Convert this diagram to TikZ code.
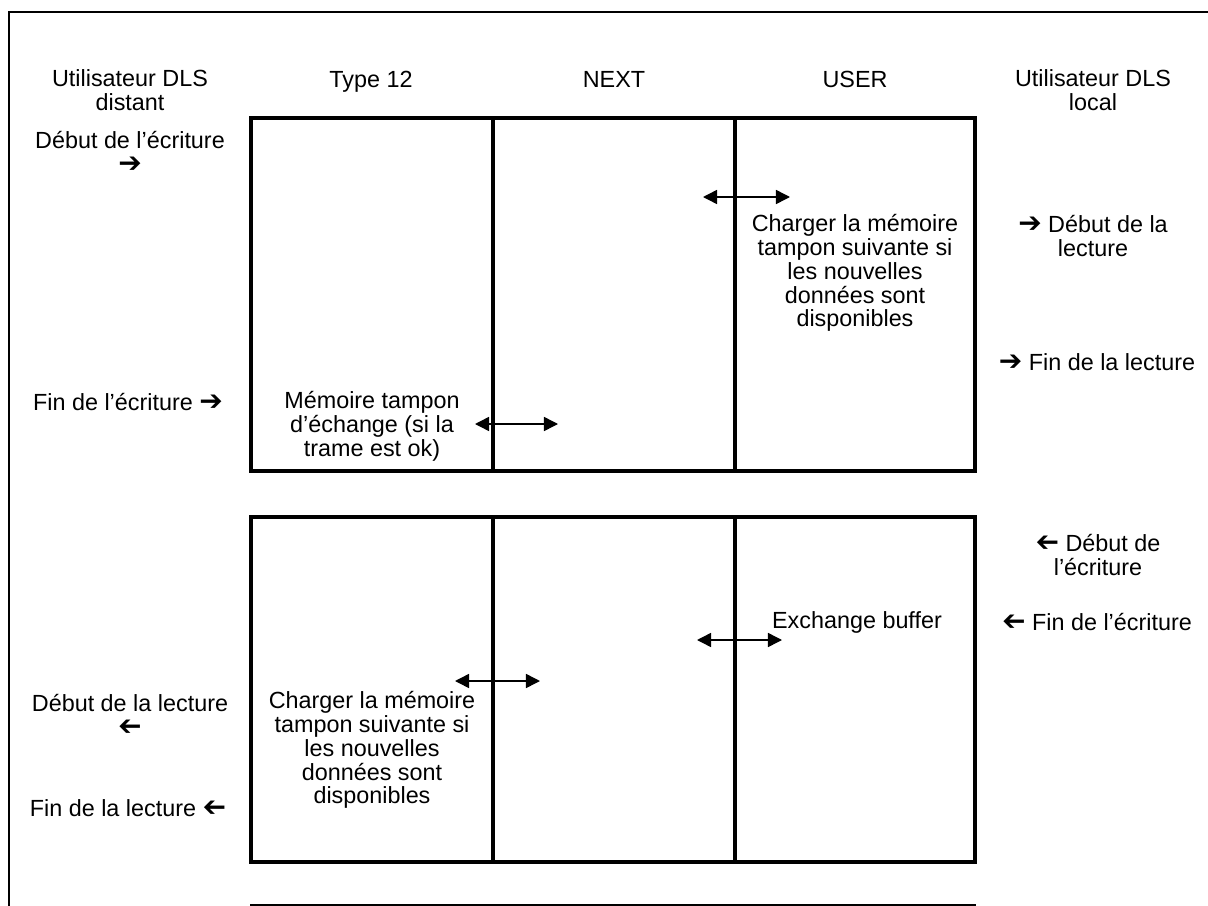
\documentclass[tikz,border=0pt]{standalone}
\usepackage{fontspec}
\usepackage{graphicx}
\setmainfont{Liberation Sans}
\newfontfamily\arrowfont{DejaVu Sans}
\usetikzlibrary{arrows.meta,positioning}
\newcommand{\rarr}{\scalebox{1.2}{\arrowfont ➔}}
\newcommand{\larr}{\scalebox{-1.2}[1.2]{\arrowfont ➔}}

\begin{document}
\begin{tikzpicture}[x=0.02cm, y=-0.02cm,
  lbl/.style={align=center, font=\fontsize{13.3}{13.6}\selectfont, inner sep=0pt},
  xchg/.style={line width=0.85pt, {Triangle[length=8pt,width=8pt]}-{Triangle[length=8pt,width=8pt]}},
  frameline/.style={line width=0.85pt},
  tablebox/.style={line width=2pt}]
\useasboundingbox (0,0) rectangle (1208,906);
\fill[white] (0,0) rectangle (1208,906);

% outer frame and bottom rule
\draw[frameline] (9,906)--(9,12)--(1208,12);
\draw[frameline] (250,905)--(976,905);

% upper table
\draw[tablebox] (251,118) rectangle (975,471);
\draw[tablebox] (493,118)--(493,471) (735,118)--(735,471);
% lower table
\draw[tablebox] (251,517) rectangle (975,862);
\draw[tablebox] (493,517)--(493,862) (735,517)--(735,862);

% column headings
\node[lbl] (distant) at (130,90) {Utilisateur DLS\\distant};
\node[lbl, anchor=base] (type12) at (371,87) {Type 12};
\node[lbl, anchor=base] (next) at (614,87) {NEXT};
\node[lbl, anchor=base] (user) at (855,87) {USER};
\node[lbl] (local) at (1093,90) {Utilisateur DLS\\local};

% remote user events
\node[lbl] (debecr) at (130,152) {Début de l’écriture\\\rarr};
\node[lbl] (finecr) at (128,402) {Fin de l’écriture \rarr};
\node[lbl] (deblec) at (130,715) {Début de la lecture\\\larr};
\node[lbl] (finlec) at (128,808) {Fin de la lecture \larr};

% local user events
\node[lbl] (debleclocal) at (1093,236) {\rarr{} Début de la\\lecture};
\node[lbl] (finleclocal) at (1097,362) {\rarr{} Fin de la lecture};
\node[lbl] (debecrlocal) at (1098,555) {\larr{} Début de\\l’écriture};
\node[lbl] (finecrlocal) at (1097,622) {\larr{} Fin de l’écriture};

% cell texts
\node[lbl] (echange) at (372,426) {Mémoire tampon\\d’échange (si la\\trame est ok)};
\node[lbl] (charger) at (855,273) {Charger la mémoire\\tampon suivante si\\les nouvelles\\données sont\\disponibles};
\node[lbl] (exchange) at (857,622) {Exchange buffer};
\node[lbl] (chargerbis) at (372,750) {Charger la mémoire\\tampon suivante si\\les nouvelles\\données sont\\disponibles};

% buffer swaps
\coordinate (swapAw) at (475,424);
\coordinate (swapAe) at (558,424);
\coordinate (swapBw) at (703,197);
\coordinate (swapBe) at (790,197);
\coordinate (swapCw) at (697,640);
\coordinate (swapCe) at (782,640);
\coordinate (swapDw) at (455,681);
\coordinate (swapDe) at (540,681);
\draw[xchg] (swapAw)--(swapAe);
\draw[xchg] (swapBw)--(swapBe);
\draw[xchg] (swapCw)--(swapCe);
\draw[xchg] (swapDw)--(swapDe);
\end{tikzpicture}
\end{document}
